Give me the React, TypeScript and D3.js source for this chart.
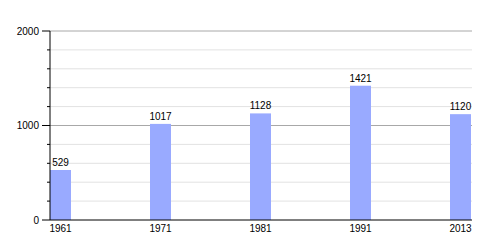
import React from "react";
import * as d3 from "d3";

const years = ["1961", "1971", "1981", "1991", "2013"];
const population = [529, 1017, 1128, 1421, 1120];
const majorTicks = [0, 1000, 2000];
const minorTicks = [200, 400, 600, 800, 1200, 1400, 1600, 1800];

export default function App() {
  const W = 500, H = 250;
  const left = 50, right = 472, top = 31, bottom = 220;
  const y = d3.scaleLinear().domain([0, 2000]).range([bottom, top]);
  const x = d3.scaleBand<string>().domain(years).range([left, left + 100 * years.length]).padding(0);
  const barW = 21;
  const font = "'Liberation Sans', Arial, sans-serif";
  return (
    <svg width={W} height={H} style={{ position: "absolute", left: 0, top: 0 }} fontFamily={font}>
      <rect width={W} height={H} fill="#fff" />
      {minorTicks.map((t) => (
        <g key={"m" + t}>
          <line x1={left} x2={right} y1={y(t)} y2={y(t)} stroke="#e2e2e2" strokeWidth={1} />
          <line x1={left - 3} x2={left} y1={y(t)} y2={y(t)} stroke="#000" strokeWidth={1} />
        </g>
      ))}
      {majorTicks.map((t) => (
        <g key={"M" + t}>
          {t > 0 && <line x1={left} x2={right} y1={y(t)} y2={y(t)} stroke="#a8a8a8" strokeWidth={1} />}
          <line x1={left - 8} x2={left} y1={y(t)} y2={y(t)} stroke="#000" strokeWidth={1} />
          <text x={left - 11} y={y(t)} dy="0.35em" textAnchor="end" fontSize={10} fill="#000">{t}</text>
        </g>
      ))}
      {years.map((yr, i) => {
        const bx = x(yr) as number;
        const v = population[i];
        return (
          <g key={yr}>
            <rect x={bx} y={y(v)} width={barW} height={bottom - y(v)} fill="#99aaff" />
            <text x={bx + barW / 2} y={y(v) - 4} textAnchor="middle" fontSize={10} fill="#000">{v}</text>
            <text x={bx + barW / 2} y={bottom + 12} textAnchor="middle" fontSize={10} fill="#000">{yr}</text>
          </g>
        );
      })}
      <line x1={left} x2={left} y1={top} y2={bottom} stroke="#000" strokeWidth={1} />
      <line x1={left} x2={right} y1={bottom} y2={bottom} stroke="#000" strokeWidth={1} />
    </svg>
  );
}
